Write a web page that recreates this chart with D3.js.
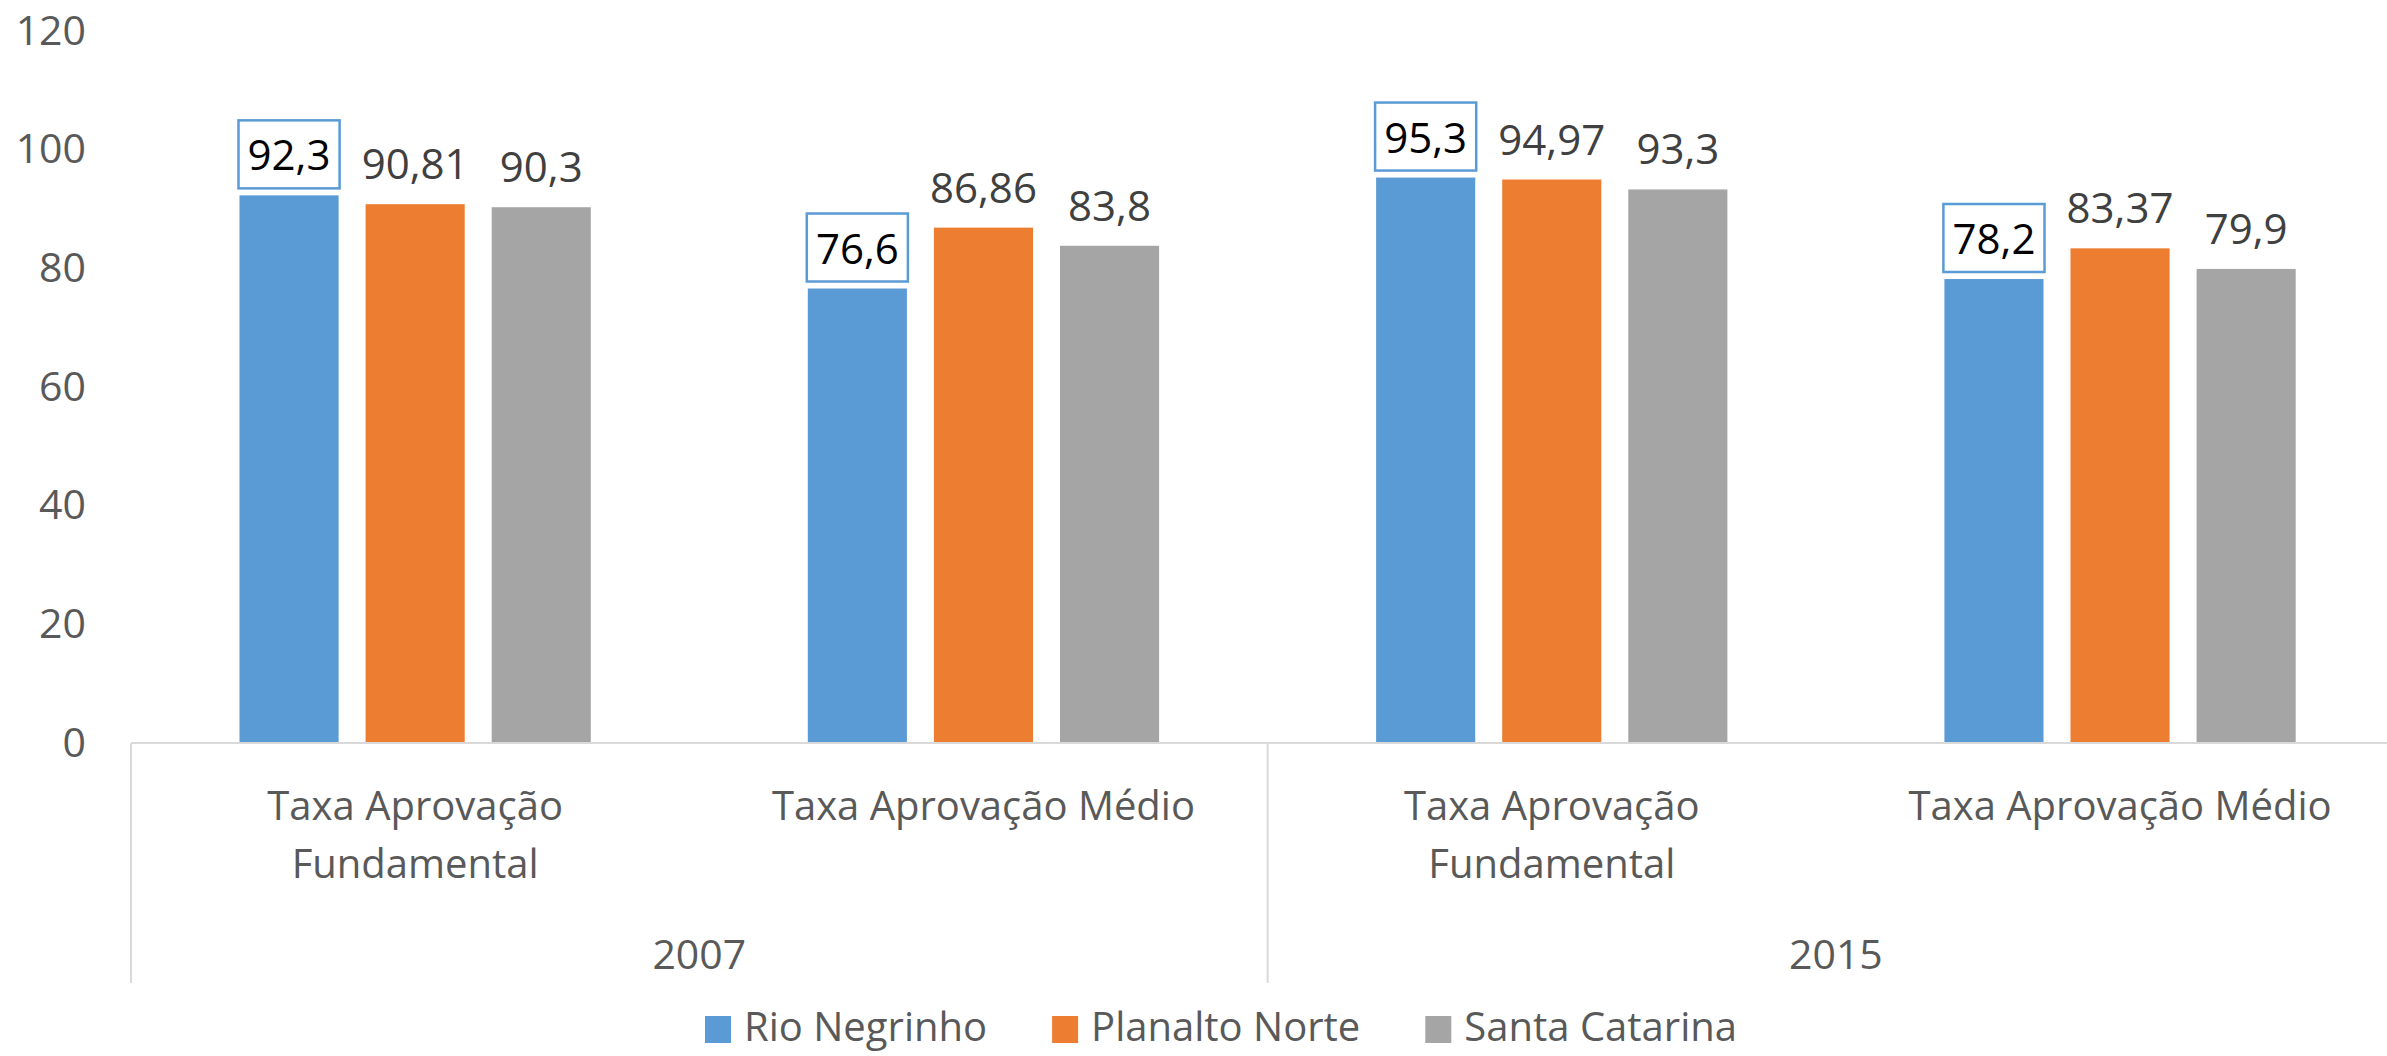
<!DOCTYPE html>
<html>
<head>
<meta charset="utf-8">
<script src="https://cdn.jsdelivr.net/npm/d3@7"></script>
<style>
  html, body { margin: 0; padding: 0; background: #fff; }
  svg { display: block; font-family: "Open Sans", sans-serif; }
</style>
</head>
<body>
<div class="visHolder"></div>
<script>
// values
const years = ["2007", "2015"];
const categories = ["Taxa Aprovação Fundamental", "Taxa Aprovação Médio"];
const categoryLines = [["Taxa Aprovação", "Fundamental"], ["Taxa Aprovação Médio"]];
const seriesNames = ["Rio Negrinho", "Planalto Norte", "Santa Catarina"];
const rioNegrinho = [92.3, 76.6, 95.3, 78.2];
const planaltoNorte = [90.81, 86.86, 94.97, 83.37];
const santaCatarina = [90.3, 83.8, 93.3, 79.9];
const yTicks = [0, 20, 40, 60, 80, 100, 120];
const colors = ["#5B9BD5", "#ED7D31", "#A5A5A5"];

let width = 2387;
let height = 1056;

let left = 131;
let bandW = 568.3;
let y0 = 743;
let yTop = 31;

let svg = d3
  .select(".visHolder")
  .append("svg")
  .attr("width", width)
  .attr("height", height);

let groups = [];
years.forEach(function (yr) {
  categories.forEach(function (c) {
    groups.push(yr + "|" + c);
  });
});

let values = [rioNegrinho, planaltoNorte, santaCatarina];

let x0 = d3.scaleBand().domain(groups).range([left, left + bandW * groups.length]);
let x1 = d3
  .scaleBand()
  .domain(seriesNames)
  .range([108.5, bandW - 108.5])
  .paddingInner(0.214);
let yScale = d3.scaleLinear().domain([0, 120]).range([y0, yTop]);

// y tick labels (no axis line in the reference)
let yAxis = d3.axisLeft(yScale).tickValues(yTicks).tickSize(0).tickPadding(0);
let yg = svg
  .append("g")
  .attr("transform", "translate(86,0)")
  .call(yAxis);
yg.select(".domain").remove();
yg.selectAll("text")
  .attr("font-size", 41)
  .attr("font-family", "Open Sans")
  .attr("fill", "#595959");

// bars
let barData = [];
groups.forEach(function (g, gi) {
  seriesNames.forEach(function (s, si) {
    barData.push({ group: g, series: s, si: si, value: values[si][gi] });
  });
});

svg
  .append("g")
  .selectAll("rect")
  .data(barData)
  .enter()
  .append("rect")
  .attr("x", (d) => x0(d.group) + x1(d.series))
  .attr("y", (d) => yScale(d.value))
  .attr("width", x1.bandwidth())
  .attr("height", (d) => y0 - yScale(d.value))
  .attr("fill", (d) => colors[d.si]);

// axis line and category separators
let lineColor = "#D9D9D9";
svg
  .append("line")
  .attr("x1", left)
  .attr("x2", left + bandW * groups.length)
  .attr("y1", y0)
  .attr("y2", y0)
  .attr("stroke", lineColor)
  .attr("stroke-width", 2);

let seps = [0, 2, 4].map((i) => left + bandW * i);
svg
  .append("g")
  .selectAll("line")
  .data(seps)
  .enter()
  .append("line")
  .attr("x1", (d) => d)
  .attr("x2", (d) => d)
  .attr("y1", y0)
  .attr("y2", 983)
  .attr("stroke", lineColor)
  .attr("stroke-width", 2);

// data labels
let fmt = (v) => String(v).replace(".", ",");
let labels = svg.append("g");
barData.forEach(function (d) {
  let cx = x0(d.group) + x1(d.series) + x1.bandwidth() / 2;
  let base = yScale(d.value) - 25;
  if (d.si === 0) {
    labels
      .append("rect")
      .attr("x", cx - x1.bandwidth() / 2 - 1)
      .attr("y", base - 50)
      .attr("width", x1.bandwidth() + 2)
      .attr("height", 68)
      .attr("fill", "#fff")
      .attr("stroke", "#5B9BD5")
      .attr("stroke-width", 2.5);
  }
  labels
    .append("text")
    .attr("x", cx)
    .attr("y", base)
    .attr("text-anchor", "middle")
    .attr("font-size", 42)
    .attr("fill", d.si === 0 ? "#000" : "#404040")
    .text(fmt(d.value));
});

// category labels
groups.forEach(function (g, gi) {
  let lines = categoryLines[gi % categories.length];
  let cx = x0(g) + bandW / 2;
  let t = svg
    .append("text")
    .attr("text-anchor", "middle")
    .attr("font-size", 40)
    .attr("fill", "#595959");
  lines.forEach(function (ln, li) {
    t.append("tspan")
      .attr("x", cx)
      .attr("y", 820 + li * 58)
      .text(ln);
  });
});

// year labels
years.forEach(function (yr, i) {
  svg
    .append("text")
    .attr("x", left + bandW * (2 * i + 1))
    .attr("y", 969)
    .attr("text-anchor", "middle")
    .attr("font-size", 41)
    .attr("fill", "#595959")
    .text(yr);
});

// legend
let legend = svg.append("g");
let lx = 0;
seriesNames.forEach(function (s, i) {
  let item = legend.append("g").attr("transform", "translate(" + lx + ",0)");
  item
    .append("rect")
    .attr("x", 0)
    .attr("y", 1016)
    .attr("width", 26)
    .attr("height", 27)
    .attr("fill", colors[i]);
  let txt = item
    .append("text")
    .attr("x", 39)
    .attr("y", 1041)
    .attr("font-size", 40)
    .attr("fill", "#595959")
    .text(s);
  lx += 39 + txt.node().getComputedTextLength() + 65;
});
let legendW = lx - 65;
legend.attr("transform", "translate(" + (1221 - legendW / 2) + ",0)");
</script>
</body>
</html>
